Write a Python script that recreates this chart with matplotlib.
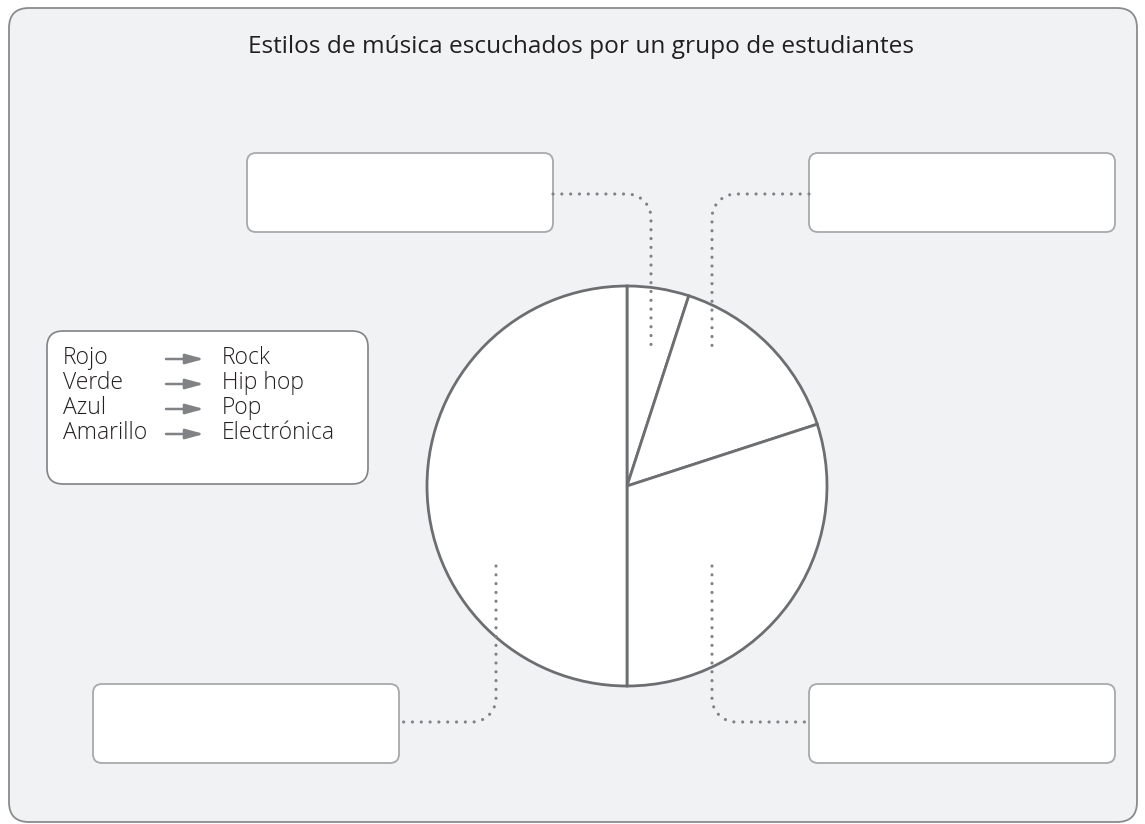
import numpy as np
import matplotlib.pyplot as plt
from matplotlib.patches import FancyBboxPatch

# data
titulo = "Estilos de música escuchados por un grupo de estudiantes"
colores = ["Rojo", "Verde", "Azul", "Amarillo"]
estilos = ["Rock", "Hip hop", "Pop", "Electrónica"]
porcentajes = [5, 15, 30, 50]

W, H = 1145, 824
plt.rcParams['font.family'] = ['Open Sans', 'DejaVu Sans']

fig = plt.figure(figsize=(W / 100, H / 100), dpi=100)
ax = fig.add_axes([0, 0, 1, 1])

def Y(y):
    # pixel row -> data y
    return H - y

def box(x0, y0, x1, y1, r, fc, ec, lw=1.2):
    p = FancyBboxPatch((x0, Y(y1)), x1 - x0, y1 - y0,
                       boxstyle=f"round,pad=0,rounding_size={r}",
                       fc=fc, ec=ec, lw=lw)
    ax.add_patch(p)

# outer panel
box(9, 8, 1137, 822, 20, '#f1f2f4', '#8a8b8d', 1.3)

ax.text(581, Y(47), titulo, ha='center', va='center', fontsize=17.6, color='#231f20')

# empty answer boxes
for (x0, y0) in [(247, 153), (809, 153), (93, 684), (809, 684)]:
    box(x0, y0, x0 + 306, y0 + 79, 9, 'white', '#a7a9ac', 1.3)

# legend box
box(47, 331, 368, 484, 16, 'white', '#808285', 1.2)
for i, (c, e) in enumerate(zip(colores, estilos)):
    yy = Y(358 + i * 25)
    ax.text(63, yy, c, ha='left', va='center', fontsize=16.5, color='#231f20',
            fontweight='light')
    ax.text(222, yy, e, ha='left', va='center', fontsize=16.5, color='#231f20',
            fontweight='light')
    ax.annotate('', xy=(204, yy - 1), xytext=(166, yy - 1),
                arrowprops=dict(arrowstyle='-|>,head_length=1.1,head_width=0.3',
                                color='#808285', lw=1.8, shrinkA=0, shrinkB=0))

# pie
cx, cy, r = 627, 486, 200
ax.pie(porcentajes, center=(cx, Y(cy)), radius=r, startangle=90, counterclock=False,
       wedgeprops=dict(fc='white', ec='#6d6e71', lw=2.0), frame=True)
ax.set_xlim(0, W)
ax.set_ylim(0, H)
ax.set_aspect('equal')
ax.axis('off')

# dotted connectors: straight - quarter arc - straight
def connector(p_start, corner, p_end, rad=24):
    (x0, y0), (xc, yc), (x1, y1) = p_start, corner, p_end
    d1 = np.sign([xc - x0, yc - y0])
    d2 = np.sign([x1 - xc, y1 - yc])
    a = (xc - d1[0] * rad, yc - d1[1] * rad)
    t = np.linspace(0, 1, 40)
    ox = a[0] + d1[0] * rad * np.sin(t * np.pi / 2) + d2[0] * rad * (1 - np.cos(t * np.pi / 2))
    oy = a[1] + d1[1] * rad * np.sin(t * np.pi / 2) + d2[1] * rad * (1 - np.cos(t * np.pi / 2))
    xs = np.concatenate([[x0], ox, [x1]])
    ys = np.concatenate([[y0], oy, [y1]])
    ax.plot(xs, [Y(v) for v in ys], color='#808285', lw=2.3,
            linestyle=(0, (0.01, 2.75)), dash_capstyle='round', solid_capstyle='round')

connector((553, 194), (651, 194), (651, 350))
connector((809, 194), (712, 194), (712, 350))
connector((496, 566), (496, 722), (400, 722))
connector((712, 566), (712, 722), (809, 722))

fig.savefig('out.png', dpi=100, facecolor='white')
